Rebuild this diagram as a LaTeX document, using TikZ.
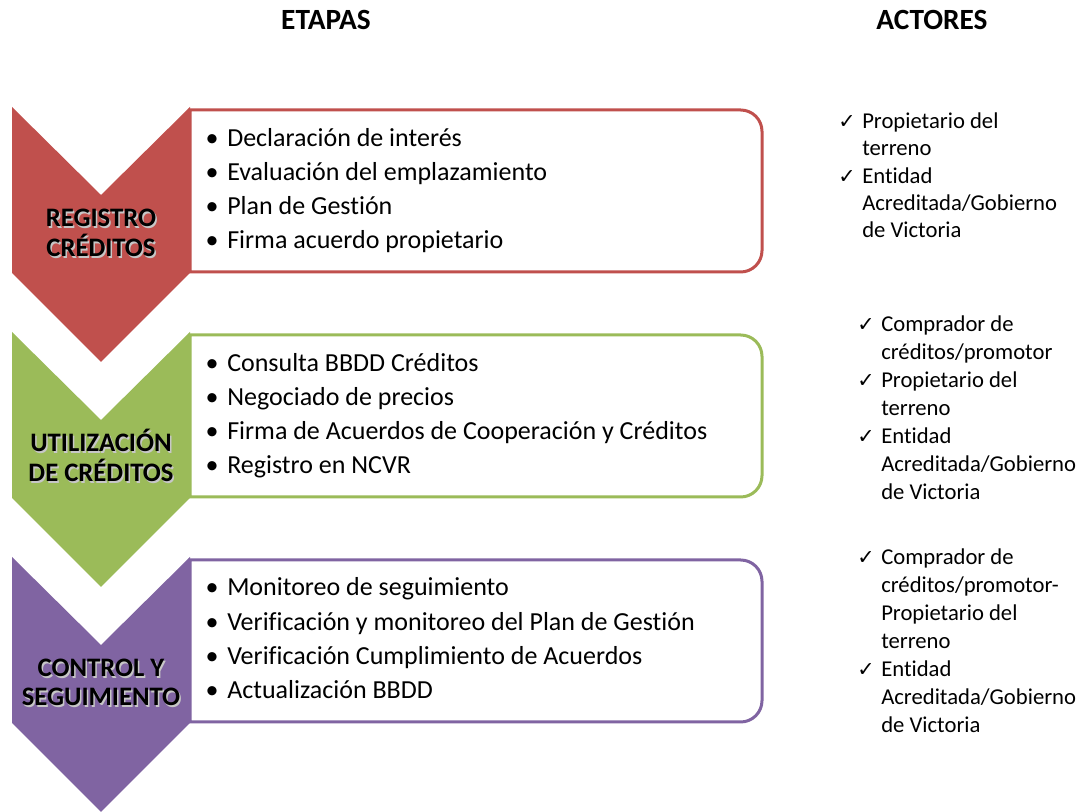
\documentclass[tikz,border=0pt]{standalone}
\usepackage{fontspec}
\setmainfont{Carlito}[Ligatures={NoCommon,NoContextual},RawFeature=-calt]
\newfontfamily\symfont{DejaVu Sans}
\definecolor{cred}{HTML}{C0504D}
\definecolor{cgreen}{HTML}{9BBB59}
\definecolor{cpurple}{HTML}{8064A2}
\newcommand\nolig{\kern0pt\relax}
\begin{document}
\begin{tikzpicture}[x=0.75pt,y=-0.75pt,
  header/.style={anchor=base, inner sep=0, font=\fontsize{22}{24}\selectfont\bfseries},
  item/.style={anchor=base west, inner sep=0, font=\fontsize{19.5}{24}\selectfont},
  bul/.style={anchor=base, inner sep=0, font=\fontsize{19.5}{24}\selectfont},
  actor/.style={anchor=base west, inner sep=0, font=\fontsize{17}{20}\selectfont},
  chk/.style={anchor=base west, inner sep=0, font=\symfont\fontsize{15.5}{17}\selectfont},
  lab/.style={anchor=base, inner sep=0, font=\fontsize{20}{22}\selectfont\bfseries},
  labshadow/.style={lab, text=black!22},
  stagebox/.style={line width=2.25pt, fill=white},
  chevron/.style={draw=none}
]
\useasboundingbox (0,0) rectangle (1083,812);

% headers
\node[header] (hEtapas) at (326,30) {ETAPAS};
\node[header] (hActores) at (932,30) {ACTORES};

% ---------- boxes and chevrons ----------
\foreach \k/\col in {0/cred,1/cgreen,2/cpurple}{
  \pgfmathsetmacro{\dy}{225*\k}
  \draw[stagebox, draw=\col] (300,110+\dy) [rounded corners=16pt] -- (762,110+\dy) -- (762,272+\dy) -- (300,272+\dy) [sharp corners] -- (190,272+\dy) -- (190,110+\dy) -- cycle;
  \fill[\col] (12,107+\dy) -- (101,195+\dy) -- (190,107+\dy) -- (190,273+\dy) -- (101,362+\dy) -- (12,273+\dy) -- cycle;
}

% ---------- chevron labels ----------
\foreach \n/\t/\y in {r1/REGISTRO/227, r2/CRÉDITOS/257, u1/UTILIZACIÓN/452, u2/DE CRÉDITOS/482, c1/CONTROL Y/677, c2/SEGUIMIENTO/706}{
  \node[labshadow] (s\n) at (102.5,\y+1.8) {\t};
  \node[lab] (l\n) at (101,\y) {\t};
}

% ---------- bullet items ----------
\foreach \n/\t/\y in {
  a1/Declaración de interés/147,
  a2/Evaluación del emplazamiento/181,
  a3/Plan de Gest\nolig ión/215,
  a4/Firma acuerdo propietario/249,
  b1/Consulta BBDD Créditos/372,
  b2/Negociado de precios/406,
  b3/Firma de Acuerdos de Cooperación y Créditos/440,
  b4/Registro en NCVR/474,
  c1/Monitoreo de seguimiento/596,
  c2/Verificación y monitoreo del Plan de Gest\nolig ión/631,
  c3/Verificación Cumplimiento de Acuerdos/665,
  c4/Actualización BBDD/699}{
  \node[bul] (bul\n) at (212,\y) {•};
  \node[item] (it\n) at (227,\y) {\t};
}

% ---------- actors ----------
\foreach \n/\t/\y in {
  p1/Propietario del/129, p2/terreno/156, p3/Ent\nolig idad/184, p4/Acreditada\slash Gobierno/211, p5/de Victoria/238}{
  \node[actor] (ac\n) at (862,\y) {\t};
}
\node[chk] (ck1) at (838,129) {✓};
\node[chk] (ck2) at (838,184) {✓};

\foreach \n/\t/\y in {
  q1/Comprador de/332, q2/créditos\slash promotor/360, q3/Propietario del/388, q4/terreno/416, q5/Ent\nolig idad/444, q6/Acreditada\slash Gobierno/472, q7/de Victoria/500}{
  \node[actor] (ac\n) at (881,\y) {\t};
}
\node[chk] (ck3) at (857,332) {✓};
\node[chk] (ck4) at (857,388) {✓};
\node[chk] (ck5) at (857,444) {✓};

\foreach \n/\t/\y in {
  w1/Comprador de/565, w2/créditos\slash promotor-/593, w3/Propietario del/621, w4/terreno/649, w5/Ent\nolig idad/677, w6/Acreditada\slash Gobierno/705, w7/de Victoria/733}{
  \node[actor] (ac\n) at (881,\y) {\t};
}
\node[chk] (ck6) at (857,565) {✓};
\node[chk] (ck7) at (857,677) {✓};
\end{tikzpicture}
\end{document}
